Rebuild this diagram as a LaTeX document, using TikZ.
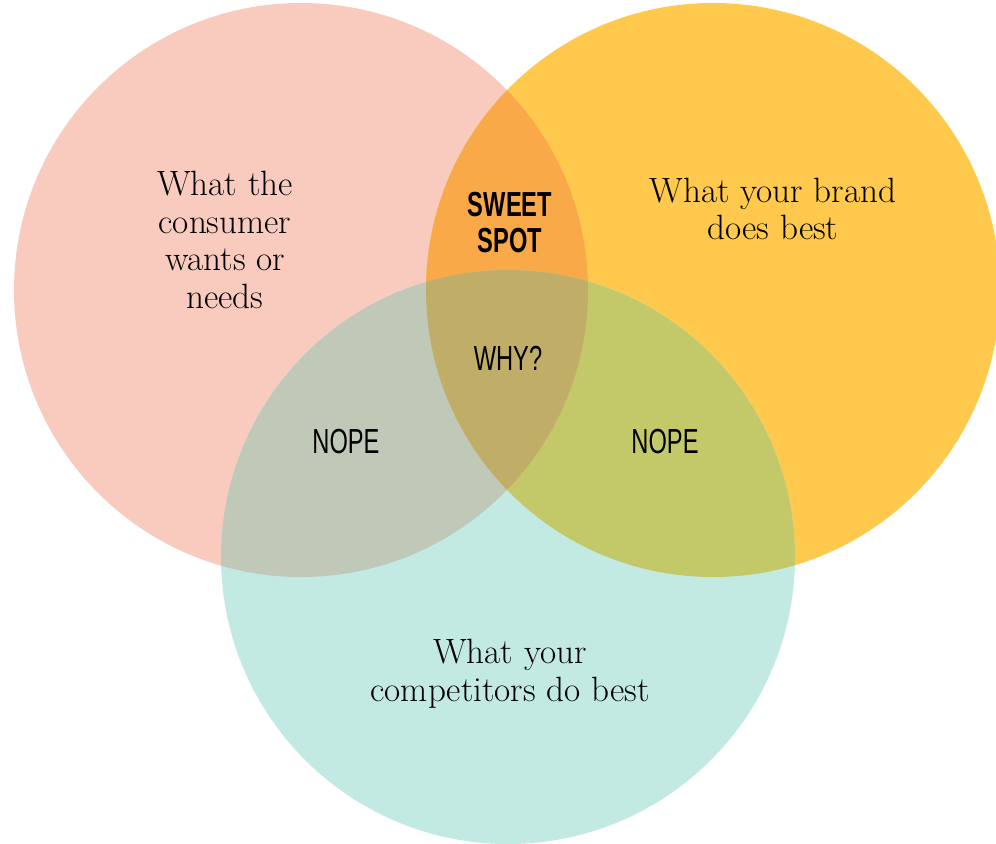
\documentclass[tikz,border=0pt]{standalone}
\usepackage{fontspec}
\newfontfamily\condfont[FakeStretch=0.68]{Liberation Sans}
\definecolor{wantcol}{HTML}{F8CBBE}
\definecolor{brandcol}{HTML}{FEC94C}
\definecolor{rivalcol}{HTML}{C2EAE3}
\definecolor{sweetcol}{HTML}{F9A948}
\definecolor{nopeleft}{HTML}{C0C8B8}
\definecolor{noperight}{HTML}{C3C868}
\definecolor{whycol}{HTML}{C0AE68}
\tikzset{
  blurb/.style={font=\fontsize{20}{21.5}\selectfont, align=center, inner sep=0pt},
  tag/.style={font=\condfont\fontsize{19.8}{20.4}\selectfont, align=center, inner sep=0pt}
}

\begin{document}
\begin{tikzpicture}[x=0.02cm,y=-0.02cm]
  \useasboundingbox (0,0) rectangle (996,843);
  \coordinate (want) at (301,290);
  \coordinate (brand) at (713,290);
  \coordinate (rival) at (508,557);
  % the three sets
  \fill[wantcol] (want) circle[radius=287];
  \fill[brandcol] (brand) circle[radius=287];
  \fill[rivalcol] (rival) circle[radius=287];
  % overlaps
  \begin{scope}
    \clip (brand) circle[radius=287];
    \fill[noperight] (rival) circle[radius=287];
  \end{scope}
  \begin{scope}
    \clip (want) circle[radius=287];
    \fill[sweetcol] (brand) circle[radius=287];
    \fill[nopeleft] (rival) circle[radius=287];
    \clip (brand) circle[radius=287];
    \fill[whycol] (rival) circle[radius=287];
  \end{scope}
  % texts
  \node[blurb] (wanttxt) at (225,240) {What the\\consumer\\wants or\\needs};
  \node[blurb] (brandtxt) at (773,209) {What your brand\\does best};
  \node[blurb] (rivaltxt) at (510,674) {What your\\competitors do best};
  \node[tag,font=\condfont\bfseries\fontsize{19.8}{20.4}\selectfont] (sweet) at (510,222.5) {SWEET\\SPOT};
  \node[tag,anchor=base] (why) at (508,370) {WHY?};
  \node[tag,anchor=base] (nope1) at (346,453) {NOPE};
  \node[tag,anchor=base] (nope2) at (665,453) {NOPE};
\end{tikzpicture}
\end{document}
